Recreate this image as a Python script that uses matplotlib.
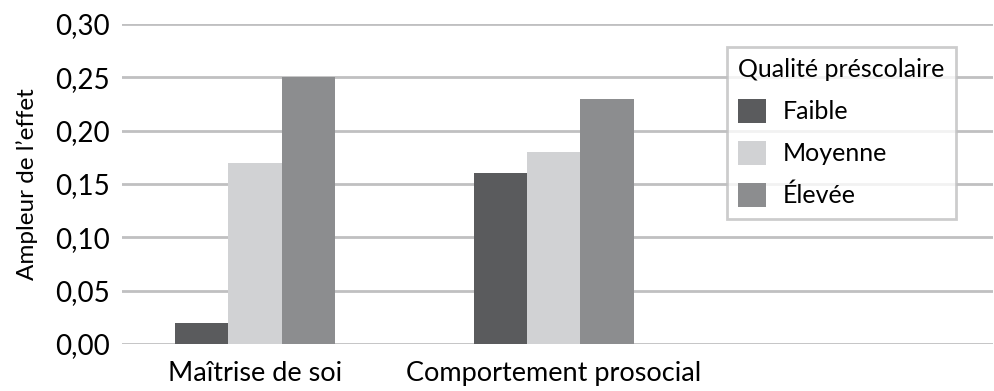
import numpy as np
from matplotlib import pyplot as plt

plt.rcParams['font.family'] = ['Lato', 'DejaVu Sans']

# effect sizes by preschool quality
categories = ["Maîtrise de soi", "Comportement prosocial"]
niveaux = ["Faible", "Moyenne", "Élevée"]
faible = [0.02, 0.16]
moyenne = [0.17, 0.18]
elevee = [0.25, 0.23]
yticks = [0.00, 0.05, 0.10, 0.15, 0.20, 0.25, 0.30]
couleurs = ["#5a5b5d", "#d1d2d4", "#8c8d8f"]

fig = plt.figure(figsize=(9.95, 3.91), dpi=100)
ax = fig.add_axes([122/995, 1-344/391, (993-122)/995, (344-24)/391])

x = np.arange(len(categories))
w = 0.178
for i, (vals, nom) in enumerate(zip([faible, moyenne, elevee], niveaux)):
    ax.bar(x + (i-1)*w, vals, w, color=couleurs[i], label=nom, zorder=3)

ax.set_ylim(0, 0.30)
ax.set_xlim(-0.445, 2.47)
ax.set_yticks(yticks)
ax.set_yticklabels([("%.2f" % v).replace(".", ",") for v in yticks], fontsize=20)
ax.set_xticks(x)
ax.set_xticklabels(categories, fontsize=19.5)
ax.tick_params(axis='x', length=0, pad=12)
ax.tick_params(axis='y', length=0, pad=9)
ax.grid(axis='y', color="#c0c0c1", linewidth=2, zorder=0)
for s in ax.spines.values():
    s.set_visible(False)
ax.set_ylabel("Ampleur de l’effet", fontsize=17.5, labelpad=12)

leg = ax.legend(title="Qualité préscolaire", fontsize=18, title_fontsize=18,
                loc="upper left", bbox_to_anchor=(727/995, 1-47/391),
                bbox_transform=fig.transFigure, frameon=True, fancybox=False,
                handlelength=1.1, handleheight=1.1, handletextpad=0.7,
                labelspacing=0.7, borderpad=0.45, borderaxespad=0,
                alignment='left')
leg.get_frame().set_edgecolor("#c0c0c1")
leg.get_frame().set_linewidth(2)

plt.savefig("out.png", dpi=100)
